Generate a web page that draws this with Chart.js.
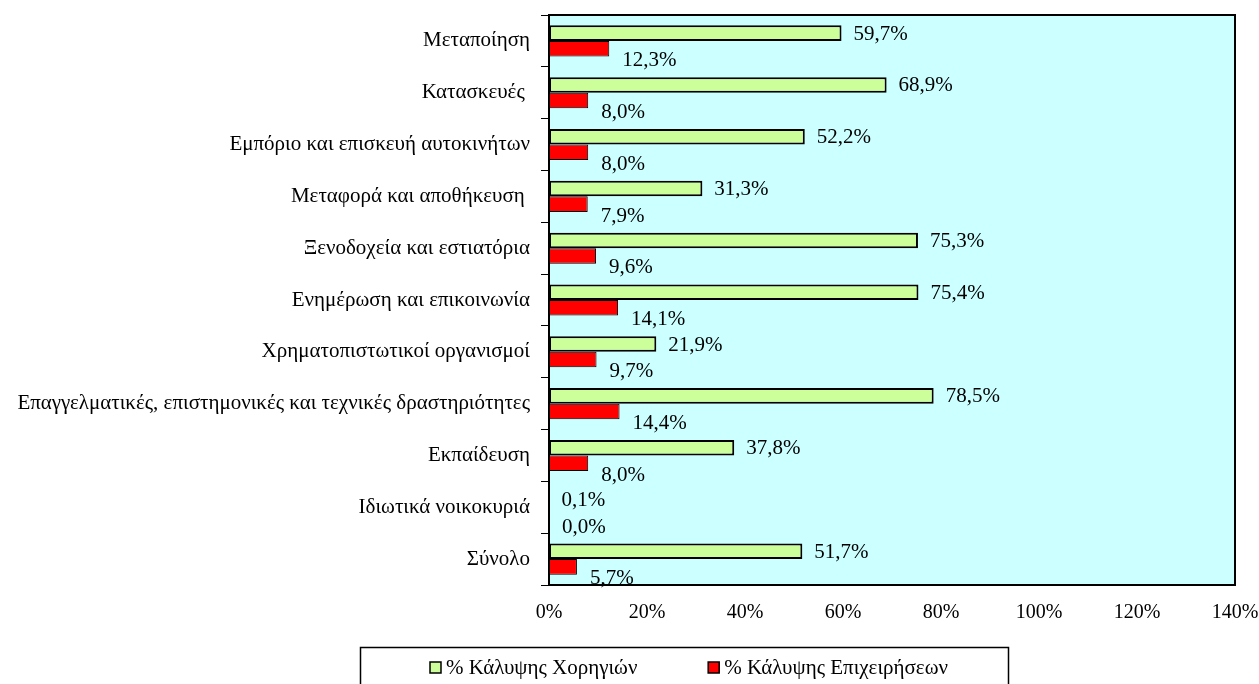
<!DOCTYPE html>
<html>
<head>
<meta charset="utf-8">
<script src="https://cdn.jsdelivr.net/npm/chart.js@4.4.0/dist/chart.umd.min.js"></script>
<style>
  html, body { margin: 0; padding: 0; background: #fff; }
  #wrap { width: 1259px; height: 684px; }
</style>
</head>
<body>
<div id="wrap"><canvas id="myChart" width="1259" height="684"></canvas></div>
<script>
const categories = [
    "Μεταποίηση",
    "Κατασκευές ",
    "Εμπόριο και επισκευή αυτοκινήτων",
    "Μεταφορά και αποθήκευση ",
    "Ξενοδοχεία και εστιατόρια",
    "Ενημέρωση και επικοινωνία",
    "Χρηματοπιστωτικοί οργανισμοί",
    "Επαγγελματικές, επιστημονικές και τεχνικές δραστηριότητες",
    "Εκπαίδευση",
    "Ιδιωτικά νοικοκυριά",
    "Σύνολο"
]
const grantCover = [59.7, 68.9, 52.2, 31.3, 75.3, 75.4, 21.9, 78.5, 37.8, 0.1, 51.7]
const firmCover = [12.3, 8.0, 8.0, 7.9, 9.6, 14.1, 9.7, 14.4, 8.0, 0.0, 5.7]
const seriesNames = ["% Κάλυψης Χορηγιών", "% Κάλυψης Επιχειρήσεων"]
const xTicks = [0, 20, 40, 60, 80, 100, 120, 140]

const FONT = "'Liberation Serif', 'Times New Roman', serif"
const FS = 21

function pct(v) {
    return v.toFixed(1).replace(".", ",") + "%"
}

// cyan plot background + black frame
const plotFrame = {
    id: "plotFrame",
    beforeDatasetsDraw(chart) {
        const a = chart.chartArea
        const ctx = chart.ctx
        ctx.save()
        ctx.fillStyle = "#CCFFFF"
        ctx.fillRect(a.left, a.top, a.right - a.left, a.bottom - a.top)
        ctx.restore()
    },
    afterDatasetsDraw(chart) {
        const a = chart.chartArea
        const ctx = chart.ctx
        ctx.save()
        ctx.strokeStyle = "#000"
        ctx.lineWidth = 2
        ctx.strokeRect(a.left, a.top, a.right - a.left, a.bottom - a.top)
        ctx.restore()
    }
}

// value labels next to bars
const valueLabels = {
    id: "valueLabels",
    afterDraw(chart) {
        const ctx = chart.ctx
        ctx.save()
        ctx.font = FS + "px " + FONT
        ctx.fillStyle = "#000"
        ctx.textAlign = "left"
        ctx.textBaseline = "middle"
        chart.data.datasets.forEach((ds, i) => {
            chart.getDatasetMeta(i).data.forEach((bar, j) => {
                if (i === 0) {
                    ctx.fillText(pct(ds.data[j]), bar.x + 12, bar.y + 1)
                } else {
                    ctx.fillText(pct(ds.data[j]), bar.x + 13, bar.y + 12)
                }
            })
        })
        ctx.restore()
    }
}

// boxed legend at the bottom
const boxLegend = {
    id: "boxLegend",
    afterDraw(chart) {
        const ctx = chart.ctx
        ctx.save()
        ctx.strokeStyle = "#000"
        ctx.lineWidth = 1.5
        ctx.strokeRect(360.5, 647.5, 648, 50)
        ctx.font = FS + "px " + FONT
        ctx.textBaseline = "middle"
        const ds = chart.data.datasets
        const w2 = ctx.measureText(ds[1].label).width
        const textX = [446, 948 - w2]
        ds.forEach((d, i) => {
            const sx = textX[i] - 16
            ctx.fillStyle = d.backgroundColor
            ctx.fillRect(sx, 662, 11, 11)
            ctx.strokeStyle = "#000"
            ctx.lineWidth = 1.5
            ctx.strokeRect(sx, 662, 11, 11)
            ctx.fillStyle = "#000"
            ctx.fillText(d.label, textX[i], 668)
        })
        ctx.restore()
    }
}

const ctx = document.getElementById("myChart")

const myChart = new Chart(ctx, {
    type: "bar",
    data: {
        labels: categories,
        datasets: [{
            label: seriesNames[0],
            data: grantCover,
            backgroundColor: "#CCFF99",
            borderColor: "#000",
            borderWidth: 2,
            borderSkipped: false,
            barPercentage: 1.0,
            categoryPercentage: 0.6
        }, {
            label: seriesNames[1],
            data: firmCover,
            backgroundColor: "#FF0000",
            borderColor: "#000",
            borderWidth: 1,
            borderSkipped: false,
            barPercentage: 1.0,
            categoryPercentage: 0.6
        }]
    },
    options: {
        indexAxis: "y",
        responsive: false,
        animation: false,
        layout: { padding: { top: 15, right: 24, left: 0, bottom: 0 } },
        plugins: {
            legend: { display: false },
            tooltip: { enabled: false }
        },
        scales: {
            x: {
                min: 0,
                max: 140,
                afterBuildTicks(scale) {
                    scale.ticks = xTicks.map(v => ({ value: v }))
                },
                afterFit(scale) {
                    scale.height = 99
                    scale.paddingLeft = 0
                    scale.paddingRight = 0
                },
                grid: { display: false, drawTicks: false },
                border: { display: false },
                ticks: {
                    padding: 16,
                    color: "#000",
                    font: { family: FONT, size: 20 },
                    callback: v => v + "%"
                }
            },
            y: {
                afterFit(scale) {
                    scale.width = 549
                    scale.paddingTop = 0
                    scale.paddingBottom = 0
                },
                grid: {
                    offset: true,
                    drawOnChartArea: false,
                    tickLength: 8,
                    color: "#000"
                },
                border: { display: false },
                ticks: {
                    padding: 11,
                    color: "#000",
                    font: { family: FONT, size: FS }
                }
            }
        }
    },
    plugins: [plotFrame, valueLabels, boxLegend]
})
</script>
</body>
</html>
